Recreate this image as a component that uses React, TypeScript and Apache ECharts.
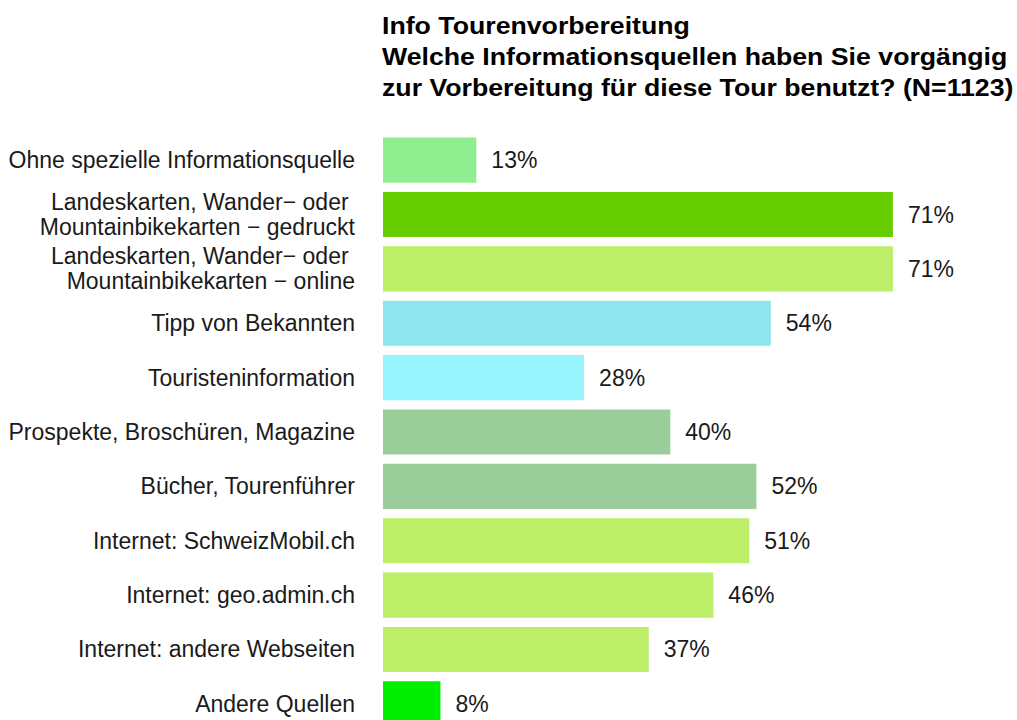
import React, { useEffect, useRef } from "react";
import * as echarts from "echarts";

const categories = [
  "Ohne spezielle Informationsquelle",
  "Landeskarten, Wander− oder \nMountainbikekarten − gedruckt",
  "Landeskarten, Wander− oder \nMountainbikekarten − online",
  "Tipp von Bekannten",
  "Touristeninformation",
  "Prospekte, Broschüren, Magazine",
  "Bücher, Tourenführer",
  "Internet: SchweizMobil.ch",
  "Internet: geo.admin.ch",
  "Internet: andere Webseiten",
  "Andere Quellen",
];
const values = [13, 71, 71, 54, 28, 40, 52, 51, 46, 37, 8];
const colors = [
  "#90EE90",
  "#66CD00",
  "#BCEE68",
  "#8EE5EE",
  "#98F5FF",
  "#9BCD9B",
  "#9BCD9B",
  "#BCEE68",
  "#BCEE68",
  "#BCEE68",
  "#00EE00",
];
const titleText =
  "Info Tourenvorbereitung\nWelche Informationsquellen haben Sie vorgängig\nzur Vorbereitung für diese Tour benutzt? (N=1123)";

export default function App() {
  const ref = useRef<HTMLDivElement>(null);
  useEffect(() => {
    if (!ref.current) return;
    const chart = echarts.init(ref.current, null, { renderer: "svg" });
    const font = "'Liberation Sans', Arial, sans-serif";
    chart.setOption({
      animation: false,
      backgroundColor: "#ffffff",
      graphic: [
        {
          type: "text",
          x: 382,
          y: 10,
          scaleX: 1.09,
          style: {
            text: titleText,
            fontFamily: font,
            fontWeight: "bold",
            fontSize: 24.5,
            lineHeight: 31,
            fill: "#000000",
            verticalAlign: "top",
            align: "left",
          },
        },
      ],
      grid: { left: 383, top: 133, width: 632, height: 598 },
      xAxis: {
        type: "value",
        min: 0,
        max: 88,
        show: false,
      },
      yAxis: {
        type: "category",
        data: categories,
        inverse: true,
        axisLine: { show: false },
        axisTick: { show: false },
        splitLine: { show: false },
        axisLabel: {
          margin: 28,
          fontFamily: font,
          fontSize: 23,
          lineHeight: 25,
          color: "#1a1a1a",
          align: "right",
        },
      },
      series: [
        {
          type: "bar",
          data: values.map((v, i) => ({ value: v, itemStyle: { color: colors[i] } })),
          barCategoryGap: "17%",
          label: {
            show: true,
            position: "right",
            distance: 15,
            formatter: "{c}%",
            fontFamily: font,
            fontSize: 23,
            color: "#1a1a1a",
          },
        },
      ],
    });
    return () => chart.dispose();
  }, []);
  return (
    <div style={{ position: "fixed", left: 0, top: 0, width: 1017, height: 720, overflow: "hidden" }}>
      <div ref={ref} style={{ width: 1017, height: 760 }} />
    </div>
  );
}
